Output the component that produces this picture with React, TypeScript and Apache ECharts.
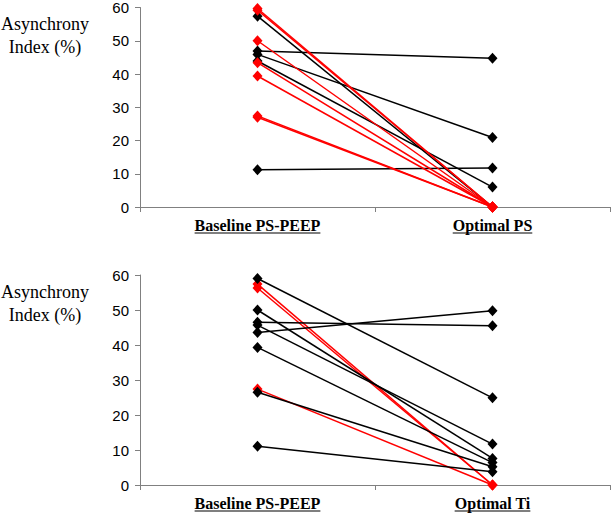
import React, { useEffect, useRef } from "react";
import * as echarts from "echarts";

// ---- data ----
const categoriesTop = ["Baseline PS-PEEP", "Optimal PS"];
const categoriesBottom = ["Baseline PS-PEEP", "Optimal Ti"];
const yAxisName = "Asynchrony\nIndex (%)";

// top panel (Baseline PS-PEEP -> Optimal PS)
const topBaselineBlack = [57.4, 46.9, 45.9, 43.9, 11.2];
const topOptimalPSBlack = [0, 44.7, 20.9, 6.0, 11.7];
const topBaselineRed = [59.7, 59.2, 50.0, 43.4, 39.4, 27.4, 27.0];
const topOptimalPSRed = [0, 0, 0, 0, 0, 0, 0];

// bottom panel (Baseline PS-PEEP -> Optimal Ti)
const bottomBaselineBlack = [59.0, 50.0, 46.5, 45.7, 43.6, 39.3, 26.5, 11.1];
const bottomOptimalTiBlack = [24.9, 7.6, 45.5, 11.7, 49.8, 6.4, 5.2, 3.8];
const bottomBaselineRed = [57.4, 56.3, 27.4];
const bottomOptimalTiRed = [0, 0, 0];

const BLACK = "#000000";
const RED = "#ff0000";
const AXIS_GRAY = "#808080";
const SERIF = "'Liberation Serif', 'Times New Roman', serif";
const SANS = "'Liberation Sans', Arial, sans-serif";

function pairSeries(
  before: number[],
  after: number[],
  color: string,
  axisIndex: number
) {
  return before.map((b, i) => ({
    type: "line",
    xAxisIndex: axisIndex,
    yAxisIndex: axisIndex,
    data: [b, after[i]],
    symbol: "diamond",
    symbolSize: [10, 11],
    showSymbol: true,
    itemStyle: { color },
    lineStyle: { color, width: 1.5 },
    emphasis: { disabled: true },
    silent: true,
  }));
}

function yAxis(gridIndex: number) {
  return {
    type: "value",
    gridIndex,
    min: 0,
    max: 60,
    interval: 10,
    splitLine: { show: false },
    axisLine: { show: true, lineStyle: { color: AXIS_GRAY, width: 1 } },
    axisTick: { show: true, length: 5, lineStyle: { color: AXIS_GRAY } },
    axisLabel: {
      color: "#000",
      fontFamily: SANS,
      fontSize: 15,
      margin: 11,
    },
  };
}

function xAxis(gridIndex: number, cats: string[]) {
  return {
    type: "category",
    gridIndex,
    data: cats,
    boundaryGap: true,
    axisLine: { show: true, lineStyle: { color: AXIS_GRAY, width: 1 } },
    axisTick: { show: true, length: 5, lineStyle: { color: AXIS_GRAY } },
    axisLabel: {
      color: "#000",
      fontFamily: SERIF,
      fontSize: 16,
      fontWeight: "bold",
      margin: 10,
    },
  };
}

export default function App() {
  const ref = useRef<HTMLDivElement>(null);

  useEffect(() => {
    document.body.style.margin = "0";
    if (!ref.current) return;
    const chart = echarts.init(ref.current, null, { renderer: "svg" });

    const option: any = {
      animation: false,
      backgroundColor: "#ffffff",
      grid: [
        { left: 140, right: 4, top: 7, height: 200 },
        { left: 140, right: 4, top: 275, height: 210 },
      ],
      xAxis: [xAxis(0, categoriesTop), xAxis(1, categoriesBottom)],
      yAxis: [yAxis(0), yAxis(1)],
      series: [
        ...pairSeries(topBaselineBlack, topOptimalPSBlack, BLACK, 0),
        ...pairSeries(topBaselineRed, topOptimalPSRed, RED, 0),
        ...pairSeries(bottomBaselineRed, bottomOptimalTiRed, RED, 1),
        ...pairSeries(bottomBaselineBlack, bottomOptimalTiBlack, BLACK, 1),
      ],
    };
    chart.setOption(option);

    // y-axis names and underlines for category labels
    const ctx = document.createElement("canvas").getContext("2d");
    const labelFont = `bold 16px ${SERIF}`;
    const measure = (t: string) => {
      if (!ctx) return t.length * 8;
      ctx.font = labelFont;
      return ctx.measureText(t).width;
    };
    const graphics: any[] = [];
    const panels = [
      { idx: 0, cats: categoriesTop },
      { idx: 1, cats: categoriesBottom },
    ];
    panels.forEach(({ idx, cats }) => {
      const top = chart.convertToPixel({ yAxisIndex: idx }, 60) as number;
      const zero = chart.convertToPixel({ yAxisIndex: idx }, 0) as number;
      graphics.push({
        type: "text",
        x: 45,
        y: top + 5,
        silent: true,
        style: {
          text: yAxisName,
          fill: "#000",
          font: `18px ${SERIF}`,
          align: "center",
          verticalAlign: "top",
          lineHeight: 23,
        },
      });
      cats.forEach((c) => {
        const cx = chart.convertToPixel({ xAxisIndex: idx }, c) as number;
        const w = measure(c);
        graphics.push({
          type: "line",
          silent: true,
          shape: { x1: cx - w / 2, y1: zero + 26, x2: cx + w / 2, y2: zero + 26 },
          style: { stroke: "#000", lineWidth: 1.2 },
        });
      });
    });
    chart.setOption({ graphic: graphics });

    return () => chart.dispose();
  }, []);

  return <div ref={ref} style={{ width: 614, height: 515 }} />;
}
